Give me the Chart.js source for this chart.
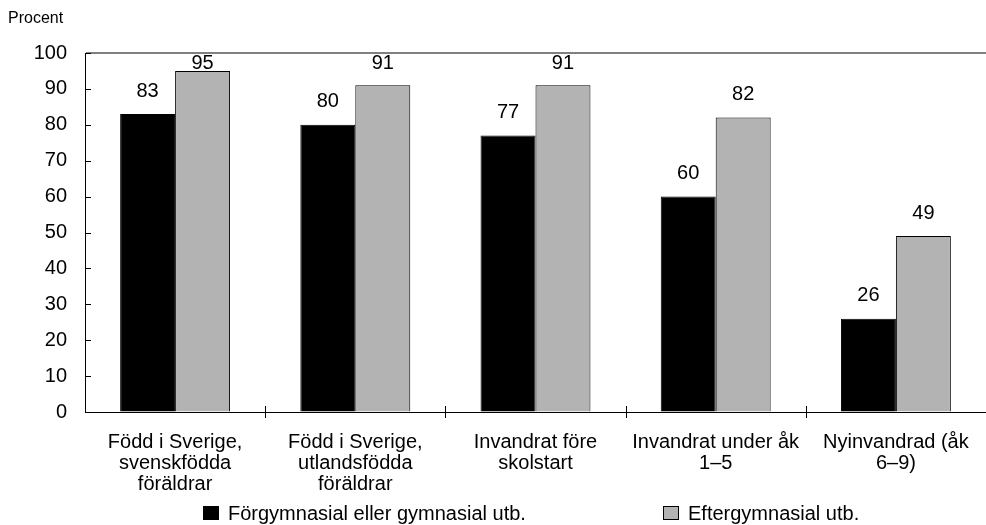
<!DOCTYPE html>
<html>
<head>
<meta charset="utf-8">
<script src="https://cdn.jsdelivr.net/npm/chart.js@4"></script>
<style>
  html, body { margin: 0; padding: 0; background: #fff; }
  #wrap { width: 986px; height: 525px; position: relative; }
</style>
</head>
<body>
<div id="wrap"><canvas id="mainChart"></canvas></div>
<script>
const categories = [
  ["Född i Sverige,", "svenskfödda", "föräldrar"],
  ["Född i Sverige,", "utlandsfödda", "föräldrar"],
  ["Invandrat före", "skolstart"],
  ["Invandrat under åk", "1–5"],
  ["Nyinvandrad (åk", "6–9)"]
];
const seriesNames = ["Förgymnasial eller gymnasial utb.", "Eftergymnasial utb."];
const forgymnasial = [83, 80, 77, 60, 26];
const eftergymnasial = [95, 91, 91, 82, 49];
const yTicks = [0, 10, 20, 30, 40, 50, 60, 70, 80, 90, 100];
const yTitle = "Procent";

const FONT = "'Liberation Sans', Arial, sans-serif";

// small inside ticks, value labels, y title and legend
const extras = {
  id: "extras",
  afterDatasetsDraw(chart) {
    const c = chart.ctx;
    const area = chart.chartArea;
    const y = chart.scales.y;
    const x = chart.scales.x;
    c.save();
    c.strokeStyle = "#000";
    c.lineWidth = 1;
    yTicks.forEach(v => {
      const py = Math.round(y.getPixelForValue(v)) + 0.5;
      c.beginPath();
      c.moveTo(area.left, py);
      c.lineTo(area.left + 6, py);
      c.stroke();
    });
    const step = (area.right - area.left) / categories.length;
    for (let i = 1; i < categories.length; i++) {
      const px = Math.round(area.left + step * i) + 0.5;
      c.beginPath();
      c.moveTo(px, area.bottom - 6);
      c.lineTo(px, area.bottom + 6);
      c.stroke();
    }

    c.fillStyle = "#000";
    c.font = "20px " + FONT;
    c.textAlign = "center";
    c.textBaseline = "middle";
    chart.data.datasets.forEach((ds, di) => {
      chart.getDatasetMeta(di).data.forEach((bar, i) => {
        const ty = Math.max(bar.y - 23, area.top + 10);
        c.fillText(String(ds.data[i]), bar.x, ty);
      });
    });

    c.font = "16px " + FONT;
    c.textAlign = "left";
    c.fillText(yTitle, 8, 19);

    c.font = "20px " + FONT;
    const starts = [area.left + 118, area.left + 578];
    chart.data.datasets.forEach((ds, di) => {
      const lx = starts[di];
      c.fillStyle = ds.backgroundColor;
      c.fillRect(lx, 506, 16, 14);
      c.strokeStyle = "#000";
      c.strokeRect(lx + 0.5, 506.5, 15, 13);
      c.fillStyle = "#000";
      c.fillText(ds.label, lx + 25, 514);
    });
    c.restore();
  }
};

new Chart(document.getElementById("mainChart"), {
  type: "bar",
  data: {
    labels: categories,
    datasets: [
      { label: seriesNames[0], data: forgymnasial, backgroundColor: "#000000", borderColor: "#000000", borderWidth: 1 },
      { label: seriesNames[1], data: eftergymnasial, backgroundColor: "#B3B3B3", borderColor: "#000000", borderWidth: 1 }
    ]
  },
  options: {
    responsive: true,
    maintainAspectRatio: false,
    animation: false,
    layout: { padding: { top: 53, right: 0, bottom: 33, left: 0 } },
    plugins: { legend: { display: false }, tooltip: { enabled: false } },
    datasets: { bar: { categoryPercentage: 0.61, barPercentage: 1 } },
    scales: {
      x: {
        grid: { display: false },
        border: { color: "#000", width: 1 },
        ticks: { color: "#000", font: { family: FONT, size: 20, lineHeight: 1.05 }, padding: 12, maxRotation: 0, autoSkip: false },
        afterFit(s) { s.height = 80; }
      },
      y: {
        min: 0, max: 100,
        grid: {
          drawTicks: false,
          color: ctx => ctx.tick && ctx.tick.value === 100 ? "#808080" : "rgba(0,0,0,0)",
          lineWidth: ctx => ctx.tick && ctx.tick.value === 100 ? 2 : 1
        },
        border: { color: "#000", width: 1 },
        ticks: { stepSize: 10, color: "#000", font: { family: FONT, size: 20 }, padding: 18 },
        afterFit(s) { s.width = 85; }
      }
    }
  },
  plugins: [extras]
});
</script>
</body>
</html>
